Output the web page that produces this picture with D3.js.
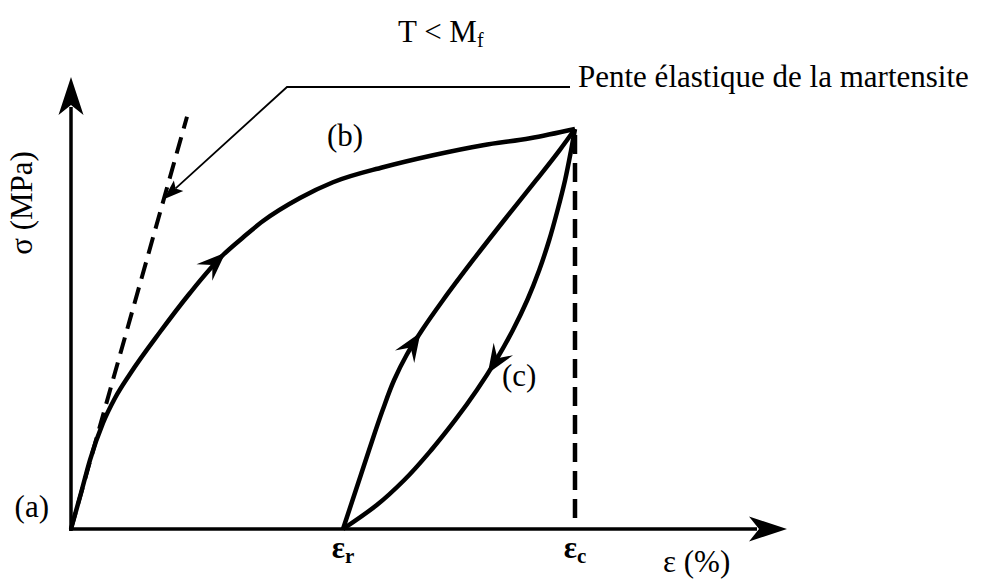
<!DOCTYPE html>
<html>
<head>
<meta charset="utf-8">
<script src="https://cdn.jsdelivr.net/npm/d3@7"></script>
</head>
<body style="margin:0;background:#fff">
<svg id="fig" width="985" height="581" style="display:block"></svg>
<script>
// Schematic stress–strain response of martensite below Mf.
// Strain in %, stress in MPa.

// (a) -> (b): first loading from the origin
const firstLoading = [
  [0, 0], [0.14, 39.8], [0.265, 76.3], [0.447, 117.3], [0.615, 144.9],
  [0.824, 171.5], [1.243, 217.9], [1.662, 261.1], [2.123, 303.1],
  [2.402, 322.5], [2.682, 340.7], [3.198, 366.2], [3.659, 383.6],
  [4.358, 400.2], [5.056, 413.5], [5.754, 424.6], [6.411, 432.3], [7.039, 442.5]
];
// (c): reloading from the residual strain back to the peak
const reloading = [
  [3.799, 0], [3.979, 43.1], [4.163, 87.4], [4.353, 131.6], [4.513, 164.8],
  [4.687, 192.5], [4.904, 220.1], [5.197, 253.3], [5.616, 297.6],
  [6.052, 341.8], [6.499, 386.1], [6.825, 419.2], [7.039, 442.5]
];
// (c): unloading from the peak down to the residual strain
const unloading = [
  [7.039, 442.5], [6.985, 419.2], [6.901, 386.1], [6.796, 352.9], [6.679, 319.7],
  [6.54, 286.5], [6.373, 253.3], [6.172, 220.1], [5.937, 186.9], [5.669, 153.8],
  [5.367, 120.6], [5.032, 87.4], [4.655, 54.2], [4.271, 26.5], [3.799, 0]
];
// elastic slope of martensite (dashed)
const elasticSlope = [[0, 0], [1.62, 456]];

// marked strains on the horizontal axis
const strainMarks = [
  { symbol: "ε", sub: "r", value: 3.799 },
  { symbol: "ε", sub: "c", value: 7.039 }
];
const peakStress = 442.5;

// direction arrows along the paths (data point nearest the arrow tip)
const flowArrows = [
  { path: "first", at: [2.15, 306.4] },
  { path: "reload", at: [4.874, 217.9] },
  { path: "unload", at: [5.81, 172.6] }
];

// stage labels, anchored in data coordinates
const stageLabels = [
  { text: "(b)", at: [3.575, 423.7] },
  { text: "(c)", at: [6.02, 158.2] }
];

const svg = d3.select("#fig");
const x = d3.scaleLinear().domain([0, 10]).range([71, 787]);
const y = d3.scaleLinear().domain([0, 500]).range([529, 77]);

const lineX = d3.line().x(d => x(d[0])).y(d => y(d[1])).curve(d3.curveMonotoneX);
const lineY = d3.line().x(d => x(d[0])).y(d => y(d[1])).curve(d3.curveMonotoneY);

// arrowhead outline with its tip at (tx, ty) pointing along angle a
function arrowHead(tx, ty, a, len, half, notch) {
  const c = Math.cos(a), s = Math.sin(a);
  const pt = (along, lat) => [tx - along * c - lat * s, ty - along * s + lat * c];
  const p1 = pt(len, half), p2 = pt(notch, 0), p3 = pt(len, -half);
  return `M${tx},${ty}L${p1}L${p2}L${p3}Z`;
}

// serif label
function addText(x0, y0, str) {
  return svg.append("text")
    .attr("x", x0).attr("y", y0)
    .attr("font-size", 31)
    .style("font-family", '"Liberation Serif"')
    .text(str);
}

// ----- axes -----
const axisW = 3.5;
const ox = x(0), oy = y(0);
svg.append("line")
  .attr("x1", ox - 2).attr("y1", oy).attr("x2", x(10) - 30).attr("y2", oy)
  .attr("stroke", "#000").attr("stroke-width", axisW);
svg.append("path")
  .attr("d", arrowHead(x(10), oy, 0, 38, 12.5, 28))
  .attr("fill", "#000");
svg.append("line")
  .attr("x1", ox).attr("y1", oy + 2).attr("x2", ox).attr("y2", y(500) + 30)
  .attr("stroke", "#000").attr("stroke-width", axisW);
svg.append("path")
  .attr("d", arrowHead(ox, y(500), -Math.PI / 2, 38, 12.5, 28))
  .attr("fill", "#000");

// ----- dashed guides -----
svg.append("path")
  .attr("d", d3.line().x(d => x(d[0])).y(d => y(d[1]))(elasticSlope))
  .attr("fill", "none").attr("stroke", "#000")
  .attr("stroke-width", 4).attr("stroke-dasharray", "17,9");
svg.append("line")
  .attr("x1", x(strainMarks[1].value)).attr("x2", x(strainMarks[1].value))
  .attr("y1", y(peakStress) + 6).attr("y2", y(0) - 4)
  .attr("stroke", "#000").attr("stroke-width", 4.5)
  .attr("stroke-dasharray", "19,9");

// ----- curves -----
const paths = {};
[["first", firstLoading, lineX], ["unload", unloading, lineY], ["reload", reloading, lineY]]
  .forEach(([key, data, gen]) => {
    paths[key] = svg.append("path")
      .attr("d", gen(data))
      .attr("fill", "none").attr("stroke", "#000")
      .attr("stroke-width", 4.5).attr("stroke-linejoin", "round");
  });

// direction arrows placed on the drawn paths
flowArrows.forEach(f => {
  const node = paths[f.path].node();
  const total = node.getTotalLength();
  const tx = x(f.at[0]), ty = y(f.at[1]);
  let best = 0, bestD = Infinity;
  for (let l = 0; l <= total; l += 0.5) {
    const p = node.getPointAtLength(l);
    const d = (p.x - tx) ** 2 + (p.y - ty) ** 2;
    if (d < bestD) { bestD = d; best = l; }
  }
  const p = node.getPointAtLength(best);
  const pb = node.getPointAtLength(Math.max(0, best - 6));
  const pf = node.getPointAtLength(Math.min(total, best + 6));
  const a = Math.atan2(pf.y - pb.y, pf.x - pb.x);
  svg.append("path")
    .attr("d", arrowHead(p.x, p.y, a, 29, 11.5, 18))
    .attr("fill", "#000");
});

// ----- annotation: elastic slope of martensite -----
const tipData = [elasticSlope[1][0] * 0.8, elasticSlope[1][1] * 0.8];
const tip = [x(tipData[0]), y(tipData[1])];
const elbow = [287, 87];
const ang = Math.atan2(tip[1] - elbow[1], tip[0] - elbow[0]);
const back = [tip[0] - 16 * Math.cos(ang), tip[1] - 16 * Math.sin(ang)];
svg.append("path")
  .attr("d", `M570,87L${elbow}L${back}`)
  .attr("fill", "none").attr("stroke", "#000").attr("stroke-width", 1.8);
svg.append("path")
  .attr("d", arrowHead(tip[0], tip[1], ang, 20, 7, 16))
  .attr("fill", "#000");
addText(578, 87, "Pente élastique de la martensite");

// ----- title -----
const title = addText(398, 42, null);
title.append("tspan").text("T < M");
title.append("tspan").attr("font-size", 20).attr("dy", 5).text("f");

// ----- axis titles -----
addText(0, 0, "σ (MPa)")
  .attr("transform", "translate(32,203) rotate(-90)")
  .attr("text-anchor", "middle");
addText(663, 572, "ε (%)");

// ----- strain marks -----
strainMarks.forEach(m => {
  const t = addText(x(m.value), 558, null)
    .attr("text-anchor", "middle").attr("font-weight", "bold");
  t.append("tspan").text(m.symbol);
  t.append("tspan").attr("font-size", 21).attr("dy", 5).text(m.sub);
});

// ----- stage labels -----
addText(ox - 22, oy - 12, "(a)").attr("text-anchor", "end");
stageLabels.forEach(s => addText(x(s.at[0]), y(s.at[1]), s.text));
</script>
</body>
</html>
